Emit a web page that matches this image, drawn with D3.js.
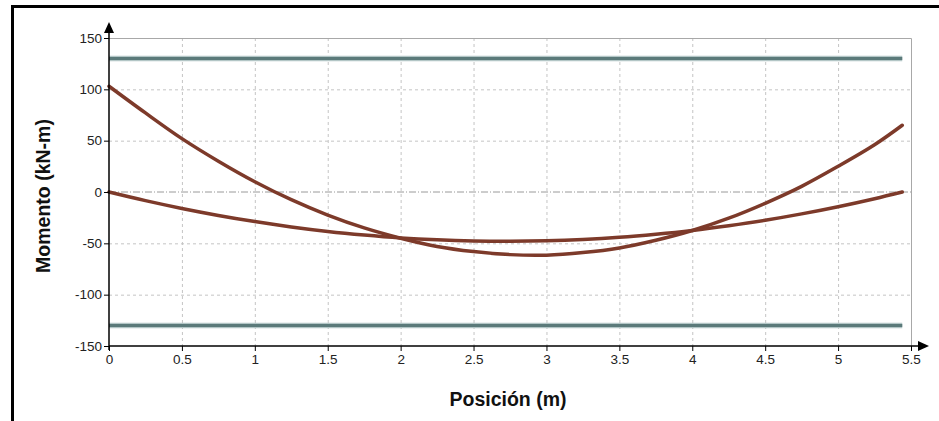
<!DOCTYPE html>
<meta charset="utf-8">
<script src="https://d3js.org/d3.v7.min.js"></script>
<style>
body { margin: 0; background: #fff; }
svg { font-family: "Liberation Sans", Arial, sans-serif; }
.title { font-weight: bold; font-size: 19.5px; fill: #111; }
</style>
<body>
<div id="chart"></div>
<script>
// positions along the beam (m)
var posicion = [0, 0.25, 0.5, 0.75, 1, 1.25, 1.5, 1.75, 2, 2.25, 2.5, 2.75, 3, 3.25, 3.5, 3.75, 4, 4.25, 4.5, 4.75, 5, 5.25, 5.44];
// moment curves (kN-m)
var momentoA = [103, 77, 52, 30, 10, -7.5, -22.5, -35, -45, -53, -58, -61, -61.5, -59, -54.5, -47, -37.5, -25.5, -11, 5.5, 25, 46, 65];
var momentoB = [0, -8.4, -16, -22.8, -28.8, -34, -38.4, -41.9, -44.7, -46.6, -47.7, -48, -47.5, -46.2, -44.1, -41.1, -37.4, -32.8, -27.5, -21.3, -14.3, -6.5, 0];
// limit lines
var limites = [130, -130];
var limiteX = [0, 5.44];

var xTicks = [0, 0.5, 1, 1.5, 2, 2.5, 3, 3.5, 4, 4.5, 5, 5.5];
var yTicks = [-150, -100, -50, 0, 50, 100, 150];

var W = 939, H = 421;
var mLeft = 109, mRight = 911, mTop = 38, mBottom = 346;

var svg = d3.select("#chart").append("svg")
  .attr("width", W).attr("height", H);

// frame of the window
svg.append("path")
  .attr("d", "M12.5," + H + "V6.5H" + W)
  .attr("fill", "none").attr("stroke", "#000").attr("stroke-width", 3);

var x = d3.scaleLinear().domain([0, 5.5]).range([mLeft, mRight]);
var y = d3.scaleLinear().domain([-150, 150]).range([mBottom, mTop]);

// grid
svg.append("g").selectAll("line")
  .data(xTicks.filter(d => d > 0 && d < 5.5))
  .enter().append("line")
  .attr("x1", d => x(d) + 0.5).attr("x2", d => x(d) + 0.5)
  .attr("y1", mTop).attr("y2", mBottom)
  .attr("stroke", "#c4c4c4").attr("stroke-dasharray", "3,3");

svg.append("g").selectAll("line")
  .data(yTicks.filter(d => d > -150 && d < 150 && d != 0))
  .enter().append("line")
  .attr("x1", mLeft).attr("x2", mRight)
  .attr("y1", d => y(d) + 0.5).attr("y2", d => y(d) + 0.5)
  .attr("stroke", "#c4c4c4").attr("stroke-dasharray", "3,3");

// zero line, dash-dot
svg.append("line")
  .attr("x1", mLeft).attr("x2", mRight)
  .attr("y1", y(0)).attr("y2", y(0))
  .attr("stroke", "#9a9a9a").attr("stroke-dasharray", "7,2,1,2");

// plot box top / right
svg.append("path")
  .attr("d", "M" + mLeft + "," + (mTop + 0.5) + "H" + (mRight + 0.5) + "V" + mBottom)
  .attr("fill", "none").attr("stroke", "#a8a8a8");

// limit lines
limites.forEach(function(v) {
  var l = svg.append("g");
  l.append("line")
    .attr("x1", x(limiteX[0])).attr("x2", x(limiteX[1]))
    .attr("y1", y(v)).attr("y2", y(v))
    .attr("stroke", "#b3c6c6").attr("stroke-width", 5.5);
  l.append("line")
    .attr("x1", x(limiteX[0])).attr("x2", x(limiteX[1]))
    .attr("y1", y(v)).attr("y2", y(v))
    .attr("stroke", "#5b7a7a").attr("stroke-width", 3);
});

// curves
var line = d3.line()
  .x((d, i) => x(posicion[i]))
  .y(d => y(d))
  .curve(d3.curveCatmullRom);

[momentoA, momentoB].forEach(function(s) {
  svg.append("path")
    .datum(s)
    .attr("d", line)
    .attr("fill", "none")
    .attr("stroke", "#7d3a2a")
    .attr("stroke-width", 3.5)
    .attr("stroke-linecap", "round");
});

// axes
var xAxis = svg.append("g")
  .attr("transform", "translate(0," + mBottom + ")")
  .call(d3.axisBottom(x).tickValues(xTicks).tickSize(5).tickPadding(3).tickFormat(d => String(d)));
xAxis.select(".domain").remove();

var yAxis = svg.append("g")
  .attr("transform", "translate(" + mLeft + ",0)")
  .call(d3.axisLeft(y).tickValues(yTicks).tickSize(5).tickPadding(2).tickFormat(d => String(d)));
yAxis.select(".domain").remove();

[xAxis, yAxis].forEach(function(a) {
  a.attr("font-family", "'Liberation Sans', Arial, sans-serif").attr("font-size", 13.5);
  a.selectAll(".tick line").attr("stroke", "#000");
  a.selectAll(".tick text").attr("fill", "#222");
});

// axis lines with arrows
svg.append("line")
  .attr("x1", mLeft).attr("x2", 924).attr("y1", mBottom).attr("y2", mBottom)
  .attr("stroke", "#000").attr("stroke-width", 1.5);
svg.append("path")
  .attr("d", "M929," + mBottom + "L918," + (mBottom - 5) + "L918," + (mBottom + 5) + "Z")
  .attr("fill", "#000");
svg.append("line")
  .attr("x1", mLeft).attr("x2", mLeft).attr("y1", mBottom + 4).attr("y2", 28)
  .attr("stroke", "#000").attr("stroke-width", 1.5);
svg.append("path")
  .attr("d", "M" + mLeft + ",22L" + (mLeft - 5) + ",33L" + (mLeft + 5) + ",33Z")
  .attr("fill", "#000");

// titles
svg.append("text")
  .attr("class", "title")
  .attr("x", 508).attr("y", 406)
  .attr("text-anchor", "middle")
  .text("Posición (m)");

svg.append("text")
  .attr("class", "title")
  .attr("transform", "translate(50,196) rotate(-90)")
  .attr("text-anchor", "middle")
  .text("Momento (kN-m)");
</script>
</body>
